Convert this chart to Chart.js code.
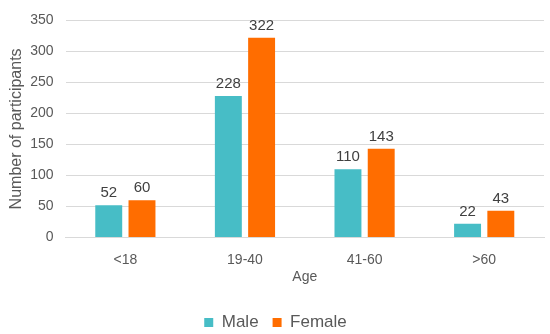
<!DOCTYPE html>
<html>
<head>
<meta charset="utf-8">
<script src="https://cdn.jsdelivr.net/npm/chart.js@4"></script>
<style>
  html, body { margin: 0; padding: 0; background: #fff; }
  #wrap { width: 550px; height: 334px; }
</style>
</head>
<body>
<div id="wrap"><canvas id="myChart" width="550" height="334"></canvas></div>
<script>
// datos del grafico
var ageGroups = ['<18', '19-40', '41-60', '>60'];
var maleCounts = [52, 228, 110, 22];
var femaleCounts = [60, 322, 143, 43];
var yTicks = [0, 50, 100, 150, 200, 250, 300, 350];

var FONT = 'Liberation Sans, Arial, sans-serif';

// etiquetas encima de las barras
var barLabels = {
  id: 'barLabels',
  afterDatasetsDraw: function (chart) {
    var ctx = chart.ctx;
    ctx.save();
    ctx.font = '15px ' + FONT;
    ctx.fillStyle = '#404040';
    ctx.textAlign = 'center';
    ctx.textBaseline = 'alphabetic';
    chart.data.datasets.forEach(function (ds, i) {
      chart.getDatasetMeta(i).data.forEach(function (bar, j) {
        ctx.fillText(ds.data[j], bar.x, bar.y - 8);
      });
    });
    ctx.restore();
  }
};

var ctx = document.getElementById('myChart');
var myChart = new Chart(ctx, {
  type: 'bar',
  data: {
    labels: ageGroups,
    datasets: [{
      label: 'Male',
      backgroundColor: '#47BDC6',
      data: maleCounts
    }, {
      label: 'Female',
      backgroundColor: '#FF6D00',
      data: femaleCounts
    }]
  },
  options: {
    responsive: false,
    animation: false,
    categoryPercentage: 0.556,
    barPercentage: 0.81,
    layout: { padding: { top: 3, right: 6, left: 7, bottom: -7 } },
    plugins: {
      tooltip: { enabled: false },
      legend: {
        position: 'bottom',
        labels: {
          boxWidth: 9,
          boxHeight: 9,
          padding: 14,
          color: '#595959',
          font: { family: FONT, size: 17 }
        }
      }
    },
    scales: {
      x: {
        grid: { display: false, drawTicks: false, tickLength: 0 },
        border: { color: '#d9d9d9' },
        ticks: { color: '#595959', font: { family: FONT, size: 14 }, padding: 14 },
        title: { display: true, text: 'Age', color: '#595959', font: { family: FONT, size: 14 }, padding: { top: -13, bottom: 14 } }
      },
      y: {
        min: 0,
        max: yTicks[yTicks.length - 1],
        afterBuildTicks: function (axis) {
          axis.ticks = yTicks.map(function (v) { return { value: v }; });
        },
        grid: { color: '#d9d9d9', drawTicks: false, tickLength: 0 },
        border: { display: false },
        ticks: { color: '#595959', font: { family: FONT, size: 14 }, padding: 12 },
        title: { display: true, text: 'Number of participants', color: '#595959', font: { family: FONT, size: 16 }, padding: { top: 0, bottom: -8 } }
      }
    }
  },
  plugins: [barLabels]
});
</script>
</body>
</html>
